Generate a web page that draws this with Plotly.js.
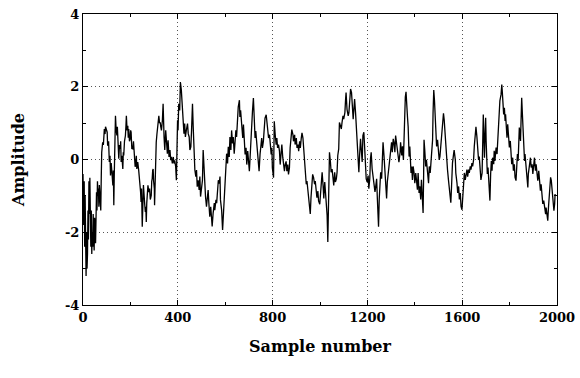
<!DOCTYPE html>
<html>
<head>
<meta charset="utf-8">
<script src="https://cdn.plot.ly/plotly-3.0.1.min.js"></script>
<style>html,body{margin:0;padding:0;background:#fff;}#chart{width:580px;height:378px;}</style>
</head>
<body>
<div id="chart"></div>
<script>
// Segment 1: samples 0-330
const samplesA = [0,3,5,7,9,11,13,15,17,19,21,23,25,27,29,31,33,35,37,39,41,43,45,47,49,51,53,55,57,59,61,63,65,67,69,71,73,75,77,79,83,86,90,93,95,98,102,104,108,111,114,116,119,121,124,126,128,130,132,134,137,140,143,145,147,149,151,154,157,159,161,164,168,170,172,175,179,181,183,186,189,191,193,196,199,201,203,206,210,213,217,220,222,225,227,229,231,235,239,241,243,245,247,250,252,255,260,263,265,267,269,271,274,278,281,284,288,290,292,294,296,298,301,302,305,307,309,312,316,318,320,323,326,328];
const ampA = [-0.4,-1.8,-0.6,-2.4,-1.0,-2.9,-3.2,-2.0,-3.0,-2.6,-1.4,-2.2,-0.6,-1.5,-0.5,-1.8,-2.4,-1.4,-2.6,-2.0,-2.4,-1.5,-2.0,-2.5,-1.6,-1.9,-2.3,-1.5,-0.9,-1.4,-0.6,-1.0,-0.8,-1.3,-0.7,-1.1,-0.9,-1.4,-0.5,0.2,0.47,0.4,0.84,0.7,0.9,0.8,0.75,0.38,0.5,-0.07,0.1,-0.44,-0.1,-0.26,-0.5,-0.71,-0.3,-1.26,-0.4,0.5,1.2,0.8,0.66,0.9,0.38,0.6,0.02,0.4,0.29,0.5,-0.07,0.1,-0.26,0.2,0.11,0.5,0.66,0.9,1.2,0.8,0.93,0.6,0.84,0.5,0.57,0.8,0.75,0.3,0.29,0.5,0.02,-0.2,-0.16,0.1,-0.26,-0.1,-0.07,-0.3,-0.53,-0.7,-0.9,-1.17,-0.8,-1.85,-1.0,-0.7,-1.2,-1.44,-1.3,-1.72,-1.2,-0.99,-0.71,-0.9,-0.8,-1.1,-0.99,-0.6,-0.53,-0.3,-0.26,-0.6,-0.8,-1.26,-0.26,0.2,0.47,0.7,0.93,1.0,1.2,1.0,1.02,0.9];

// Segment 2: samples 331-665
const samplesB = [331,335,338,342,345,349,352,356,359,363,367,370,373,377,381,384,387,391,394,397,399,401,404,408,411,415,418,422,426,429,432,436,441,444,448,451,455,458,462,465,468,472,476,479,482,486,490,493,496,500,504,507,510,514,517,521,525,528,531,535,539,542,545,549,554,556,561,564,568,571,575,578,580,585,589,592,595,599,603,606,610,613,617,620,624,627,631,634,638,641,645,648,652,655,660,662,665];
const ampB = [0.80,1.08,1.53,0.62,0.26,0.80,0.53,0.16,0.53,0.07,0.26,-0.02,0.07,-0.11,0.07,-0.11,-0.02,-0.2,-0.57,0.07,1.08,0.8,1.53,1.35,2.13,1.9,1.53,0.99,0.71,0.99,0.62,0.80,0.99,0.71,0.62,0.26,0.35,0.80,1.53,0.89,0.35,-0.29,-0.47,-0.29,-0.75,-0.57,-0.84,-0.47,-1.02,-0.75,-0.57,0.26,-0.29,-0.75,-1.02,-1.3,-1.02,-0.84,-1.2,-1.57,-1.3,-1.66,-1.84,-1.48,-1.2,-1.39,-1.11,-1.2,-0.84,-0.57,-0.66,-0.47,-1.11,-1.39,-1.94,-1.57,-1.02,-0.66,-0.29,0.16,-0.11,0.35,0.07,0.62,0.26,0.80,0.44,0.62,0.16,0.35,0.80,0.62,1.08,1.44,1.63,1.17,1.35];

// Segment 3: samples 669-1006
const samplesC = [669,674,677,681,684,688,691,695,698,702,705,708,712,715,719,722,726,729,733,736,740,743,747,751,754,757,761,766,768,773,775,780,783,787,790,794,797,799,804,807,811,815,818,821,825,829,832,836,839,843,846,850,853,857,860,864,867,871,874,879,881,886,888,893,895,900,903,907,910,914,917,921,924,928,931,935,938,942,945,949,952,956,959,962,966,969,973,977,980,984,987,991,994,999,1001,1006];
const ampC = [1.05,0.59,0.96,0.41,0.14,0.32,-0.14,0.23,-0.05,-0.32,0.05,0.59,0.78,1.32,1.69,1.05,0.59,0.78,0.5,0.14,-0.14,-0.32,0.14,0.41,0.59,0.32,0.5,0.96,1.14,1.23,1.05,0.87,0.59,0.68,0.32,0.14,0.32,-0.23,-0.5,1.05,0.68,0.41,0.59,0.32,0.41,0.23,-0.14,0.14,0.41,0.05,-0.14,-0.32,-0.14,-0.05,-0.32,-0.14,-0.41,-0.23,0.32,0.78,0.82,0.68,0.5,0.68,0.41,0.59,0.32,0.41,0.23,0.5,0.32,0.59,0.73,0.59,0.32,-0.14,-0.41,-0.68,-0.59,-0.87,-1.05,-1.23,-1.5,-1.05,-0.59,-0.41,-0.5,-0.68,-0.59,-0.96,-1.05,-0.87,-1.14,-1.23,-1.05,-0.5];

// Segment 4: samples 1009-1345
const samplesD = [1009,1013,1016,1020,1023,1027,1030,1033,1035,1037,1040,1044,1047,1051,1055,1058,1062,1065,1069,1072,1075,1079,1082,1086,1090,1093,1097,1100,1105,1108,1110,1114,1119,1122,1126,1129,1133,1136,1140,1143,1146,1150,1153,1157,1160,1164,1167,1171,1175,1178,1181,1185,1188,1192,1195,1199,1203,1206,1210,1213,1216,1220,1225,1227,1232,1234,1239,1242,1244,1247,1250,1253,1256,1260,1263,1266,1270,1274,1277,1281,1284,1288,1291,1295,1298,1302,1305,1309,1312,1316,1319,1323,1326,1330,1333,1338,1340,1345];
const ampD = [-0.35,-0.71,-1.07,-0.62,-0.89,-1.26,-1.53,-2.27,-1.26,-0.35,0.2,-0.07,-0.35,-0.26,-0.53,-0.71,-0.35,-0.62,-0.53,-0.35,0.11,0.29,1.02,0.93,0.84,1.02,1.2,1.11,1.29,1.66,1.84,1.38,1.2,1.29,1.57,1.94,1.84,1.48,1.11,1.38,1.66,1.29,0.93,0.57,0.02,-0.35,0.11,0.57,0.2,-0.07,0.66,0.75,0.38,-0.16,-0.53,-0.62,-0.44,-0.8,-0.53,0.02,0.2,-0.26,-0.53,-0.71,-0.89,-0.8,-0.53,-1.07,-1.62,-1.85,-1.07,-0.62,-0.35,-0.53,-0.16,0.47,0.11,-0.35,-0.71,-1.07,-0.62,-0.35,-0.16,0.02,0.29,0.47,0.2,0.57,0.47,0.2,0.66,0.47,0.29,0.11,-0.07,0.2,0.47,0.11];

// Segment 5: samples 1348-1684
const samplesE = [1348,1352,1355,1357,1360,1363,1366,1369,1372,1374,1376,1379,1381,1384,1387,1390,1393,1397,1400,1404,1407,1411,1414,1418,1421,1425,1428,1432,1435,1437,1439,1442,1446,1449,1453,1458,1461,1465,1468,1472,1475,1477,1480,1483,1486,1489,1492,1496,1500,1503,1506,1510,1514,1517,1521,1524,1527,1531,1534,1538,1542,1545,1549,1552,1555,1559,1564,1566,1571,1573,1578,1581,1585,1588,1592,1595,1599,1602,1606,1609,1613,1616,1620,1623,1627,1630,1634,1637,1641,1644,1648,1651,1655,1658,1662,1665,1669,1672,1677,1679,1684];
const ampE = [0.36,-0.01,1.0,1.45,1.72,1.86,1.63,1.18,0.9,0.54,0.08,0.36,-0.01,-0.37,-0.19,-0.56,-0.19,-0.37,-0.65,-0.37,-0.56,-0.83,-0.37,-0.92,-0.74,-1.1,-0.56,-1.29,-1.47,-0.56,0.54,0.26,-0.19,-0.01,-0.37,-0.65,-0.19,-0.37,-0.1,0.17,0.54,1.27,1.91,1.63,1.18,0.72,0.36,0.54,0.17,-0.01,0.08,0.45,0.72,1.0,1.27,1.09,0.72,0.45,0.08,-0.28,-0.56,-0.83,-1.1,-1.19,-0.74,-0.1,0.17,0.26,-0.01,-0.37,-0.65,-0.92,-0.74,-1.1,-0.92,-1.29,-1.38,-1.1,-0.74,-0.37,-0.56,-0.37,-0.28,-0.47,-0.28,-0.37,-0.19,-0.28,-0.1,-0.19,-0.01,0.36,0.72,0.9,0.63,0.26,-0.01,0.08,-0.28,-0.56,-0.37];

// Segment 6: samples 1689-2000
const samplesF = [1689,1692,1694,1696,1699,1701,1703,1706,1709,1711,1714,1717,1720,1723,1726,1728,1733,1735,1738,1743,1747,1750,1752,1757,1759,1764,1767,1769,1772,1775,1778,1781,1783,1786,1789,1792,1795,1799,1803,1806,1809,1813,1816,1820,1823,1827,1830,1833,1836,1839,1841,1846,1848,1851,1854,1857,1860,1863,1865,1870,1872,1877,1879,1884,1888,1891,1895,1898,1902,1905,1909,1912,1916,1919,1923,1926,1930,1933,1937,1940,1944,1947,1952,1954,1959,1961,1964,1967,1970,1973,1976,1978,1981,1984,1987,1990,1992];
const ampF = [1.24,0.51,0.05,0.6,1.15,0.51,-0.04,-0.4,-0.22,-0.58,-0.77,-1.13,-0.4,-0.04,-0.31,0.05,-0.13,0.24,-0.04,0.33,0.15,0.51,0.88,1.24,1.61,1.79,2.06,1.88,1.52,1.24,1.42,1.06,1.24,0.88,0.6,0.97,0.7,0.33,0.51,0.15,-0.13,0.05,-0.31,-0.13,-0.49,-0.58,-0.22,0.15,-0.04,0.51,0.88,0.51,1.15,1.7,1.24,0.7,0.33,-0.04,0.15,-0.22,-0.58,-0.77,-0.4,-0.13,0.05,-0.22,-0.13,-0.4,-0.04,0.05,-0.31,-0.13,-0.4,-0.58,-0.31,-0.68,-0.86,-0.68,-1.04,-1.22,-1.13,-1.32,-1.5,-1.32,-1.59,-1.68,-1.32,-1.04,-0.68,-0.49,-0.58,-0.77,-0.95,-1.13,-1.41,-1.22,-0.95];

const xTickVals = [0, 400, 800, 1200, 1600, 2000];
const xTickText = ['0', '400', '800', '1200', '1600', '2000'];
const yTickVals = [-4, -2, 0, 2, 4];
const yTickText = ['-4', '-2', '0', '2', '4'];

const xs = [].concat(samplesA, samplesB, samplesC, samplesD, samplesE, samplesF);
const ys = [].concat(ampA, ampB, ampC, ampD, ampE, ampF);

const FONT = 'DejaVu Serif, serif';

const axisCommon = {
  showline: true, linecolor: '#000', linewidth: 1, mirror: 'ticks',
  ticks: 'inside', ticklen: 5, tickcolor: '#000', tickwidth: 1,
  showgrid: true, gridcolor: '#555', griddash: '1px,3px', gridwidth: 1,
  zeroline: false,
  tickfont: {family: FONT, size: 13, color: '#000', weight: 'bold'},
  tickmode: 'array'
};

const data = [{
  x: xs, y: ys, type: 'scatter', mode: 'lines',
  line: {color: '#000', width: 1.3}, hoverinfo: 'skip'
}];

const layout = {
  width: 580, height: 378,
  margin: {l: 83, r: 23, t: 14, b: 73},
  paper_bgcolor: '#fff', plot_bgcolor: '#fff',
  showlegend: false,
  xaxis: Object.assign({}, axisCommon, {
    range: [0, 2000], tickvals: xTickVals, ticktext: xTickText,
    minor: {tickvals: [200, 600, 1000, 1400, 1800], ticks: 'inside', ticklen: 3, tickcolor: '#000', showgrid: false},
    title: {text: 'Sample number', standoff: 17, font: {family: FONT, size: 16, color: '#000', weight: 'bold'}}
  }),
  yaxis: Object.assign({}, axisCommon, {
    range: [-4, 4], tickvals: yTickVals, ticktext: yTickText,
    minor: {tickvals: [-3, -1, 1, 3], ticks: 'inside', ticklen: 3, tickcolor: '#000', showgrid: false},
    title: {text: 'Amplitude', standoff: 36, font: {family: FONT, size: 16, color: '#000', weight: 'bold'}}
  })
};

Plotly.newPlot('chart', data, layout, {staticPlot: true, displayModeBar: false});
</script>
</body>
</html>
